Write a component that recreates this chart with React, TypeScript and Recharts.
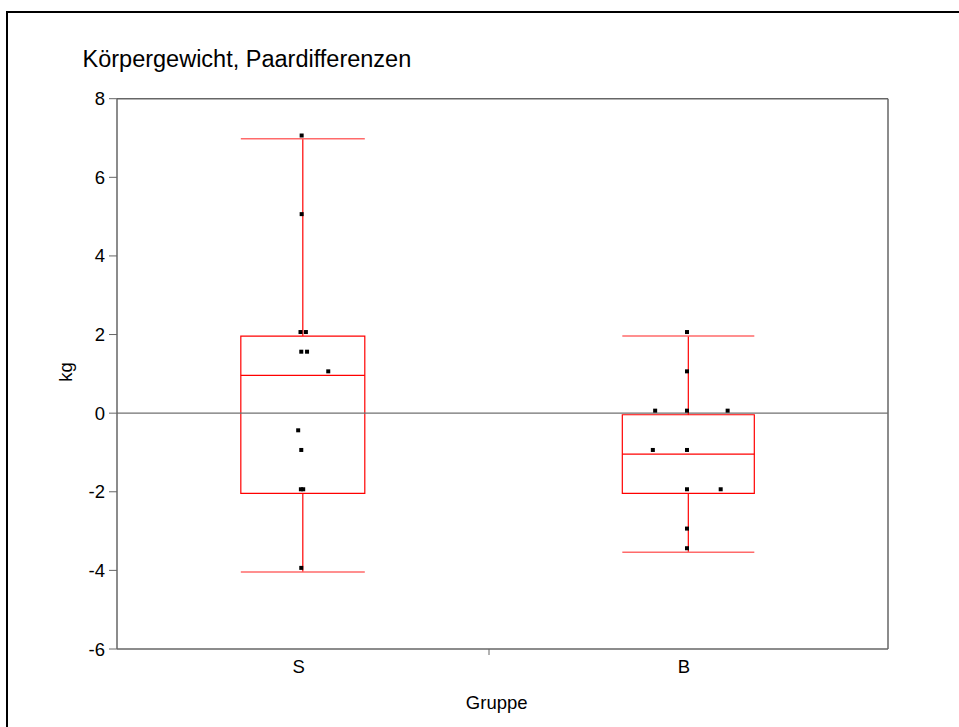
import React from "react";
import {
  ComposedChart,
  XAxis,
  YAxis,
  Scatter,
  ReferenceArea,
  ReferenceLine,
} from "recharts";

// ---- data ----
const categories = ["S", "B"];
const categoryCenters = [24.1, 74.1];
const categoryHalfWidths = [8.04, 8.56];
const categoryLabelPositions = [23.57, 73.54];
const dividerTick = 48.25;

const whiskerHigh = [6.98, 1.96];
const quartile3 = [1.96, -0.04];
const medians = [0.96, -1.04];
const quartile1 = [-2.04, -2.04];
const whiskerLow = [-4.04, -3.54];

const sValues = [7, 5, 2, 2, 1.5, 1.5, 1, -0.5, -1, -2, -2, -4];
const sPositions = [23.95, 23.95, 23.8, 24.5, 23.9, 24.65, 27.4, 23.5, 23.9, 23.85, 24.15, 23.9];
const bValues = [2, 1, 0, 0, 0, -1, -1, -2, -2, -3, -3.5];
const bPositions = [73.93, 73.93, 69.8, 73.93, 79.2, 69.5, 73.93, 73.93, 78.3, 73.93, 73.93];

const yTicks = [-6, -4, -2, 0, 2, 4, 6, 8];

const sPoints = sValues.map((v, i) => ({ x: sPositions[i], y: v }));
const bPoints = bValues.map((v, i) => ({ x: bPositions[i], y: v }));

const FONT = "'Liberation Sans', Arial, Helvetica, sans-serif";
const AXIS = "#666666";
const RED = "#ff0000";

const Marker = (props: any) => {
  const { cx, cy } = props;
  if (cx == null || cy == null) return null;
  return <rect x={cx - 2} y={cy - 4.5} width={4} height={4} fill="#000" />;
};

const XTick = (props: any) => {
  const { x, y, payload } = props;
  const v = payload?.value;
  if (v === dividerTick) {
    return <line x1={x} y1={y} x2={x} y2={y + 6} stroke={AXIS} strokeWidth={1} />;
  }
  const idx = categoryLabelPositions.indexOf(v);
  return (
    <text x={x} y={y + 24} textAnchor="middle" fontSize={18.5} fill="#000" fontFamily={FONT}>
      {idx >= 0 ? categories[idx] : ""}
    </text>
  );
};

export default function App() {
  return (
    <div
      style={{
        position: "absolute",
        left: 0,
        top: 0,
        width: 959,
        height: 727,
        overflow: "hidden",
        background: "#fff",
        fontFamily: FONT,
      }}
    >
      <div
        style={{
          position: "absolute",
          left: 6,
          top: 11,
          width: 2000,
          height: 2000,
          borderLeft: "2px solid #000",
          borderTop: "2px solid #000",
        }}
      />
      <div style={{ position: "absolute", left: 0, top: 0 }}>
        <ComposedChart
          width={959}
          height={727}
          margin={{ top: 98.7, right: 71, bottom: 0, left: 0 }}
          style={{ fontFamily: FONT }}
        >
          <XAxis
            type="number"
            dataKey="x"
            domain={[0, 100]}
            ticks={[categoryLabelPositions[0], dividerTick, categoryLabelPositions[1]]}
            height={78}
            tickLine={false}
            tickSize={0}
            tickMargin={0}
            axisLine={{ stroke: AXIS, strokeWidth: 1.5 }}
            tick={<XTick />}
            interval={0}
            allowDataOverflow
          />
          <YAxis
            type="number"
            dataKey="y"
            domain={[-6, 8]}
            ticks={yTicks}
            width={117}
            tickSize={8}
            tickMargin={4}
            axisLine={{ stroke: AXIS, strokeWidth: 1.5 }}
            tickLine={{ stroke: AXIS, strokeWidth: 1 }}
            tick={{ fontSize: 18.5, fill: "#000", fontFamily: FONT }}
            interval={0}
            allowDataOverflow
          />
          <ReferenceLine y={8} stroke={AXIS} strokeWidth={1.5} />
          <ReferenceLine x={100} stroke={AXIS} strokeWidth={1.5} />
          <ReferenceLine y={0} stroke="#707070" strokeWidth={1.3} />
          {categories.map((c, i) => (
            <ReferenceArea
              key={"box" + c}
              x1={categoryCenters[i] - categoryHalfWidths[i]}
              x2={categoryCenters[i] + categoryHalfWidths[i]}
              y1={quartile1[i]}
              y2={quartile3[i]}
              fill="none"
              fillOpacity={0}
              stroke={RED}
              strokeWidth={1.2}
              strokeOpacity={1}
            />
          ))}
          {categories.map((c, i) => (
            <ReferenceLine
              key={"med" + c}
              segment={[
                { x: categoryCenters[i] - categoryHalfWidths[i], y: medians[i] },
                { x: categoryCenters[i] + categoryHalfWidths[i], y: medians[i] },
              ]}
              stroke={RED}
              strokeWidth={1.2}
            />
          ))}
          {categories.map((c, i) => (
            <ReferenceLine
              key={"wu" + c}
              segment={[
                { x: categoryCenters[i], y: quartile3[i] },
                { x: categoryCenters[i], y: whiskerHigh[i] },
              ]}
              stroke={RED}
              strokeWidth={1.2}
            />
          ))}
          {categories.map((c, i) => (
            <ReferenceLine
              key={"wl" + c}
              segment={[
                { x: categoryCenters[i], y: quartile1[i] },
                { x: categoryCenters[i], y: whiskerLow[i] },
              ]}
              stroke={RED}
              strokeWidth={1.2}
            />
          ))}
          {categories.map((c, i) => (
            <ReferenceLine
              key={"cu" + c}
              segment={[
                { x: categoryCenters[i] - categoryHalfWidths[i], y: whiskerHigh[i] },
                { x: categoryCenters[i] + categoryHalfWidths[i], y: whiskerHigh[i] },
              ]}
              stroke="#ff6a6a"
              strokeWidth={1.5}
            />
          ))}
          {categories.map((c, i) => (
            <ReferenceLine
              key={"cl" + c}
              segment={[
                { x: categoryCenters[i] - categoryHalfWidths[i], y: whiskerLow[i] },
                { x: categoryCenters[i] + categoryHalfWidths[i], y: whiskerLow[i] },
              ]}
              stroke="#ff6a6a"
              strokeWidth={1.5}
            />
          ))}
          <Scatter name="S" data={sPoints} shape={<Marker />} isAnimationActive={false} />
          <Scatter name="B" data={bPoints} shape={<Marker />} isAnimationActive={false} />
        </ComposedChart>
      </div>
      <svg
        width={959}
        height={727}
        style={{ position: "absolute", left: 0, top: 0, pointerEvents: "none" }}
      >
        <text x={82.5} y={67.3} fontSize={23.5} fill="#000" fontFamily={FONT}>
          Körpergewicht, Paardifferenzen
        </text>
        <text
          x={0}
          y={0}
          fontSize={18.5}
          fill="#000"
          fontFamily={FONT}
          textAnchor="middle"
          transform="translate(71.5 372) rotate(-90)"
        >
          kg
        </text>
        <text x={496.7} y={709.3} fontSize={18.5} fill="#000" fontFamily={FONT} textAnchor="middle">
          Gruppe
        </text>
      </svg>
    </div>
  );
}
